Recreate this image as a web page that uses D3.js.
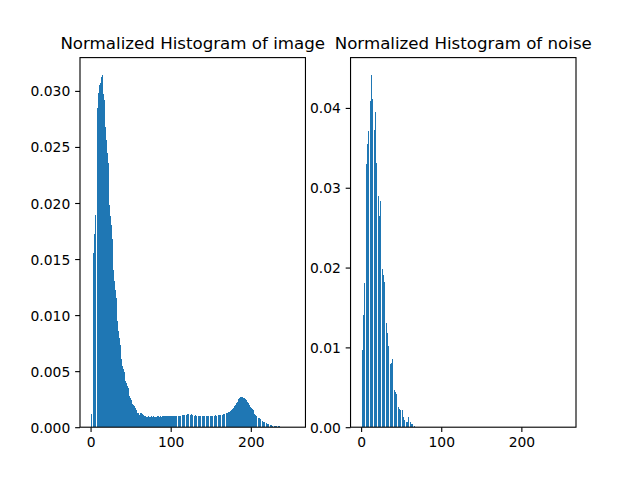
<!DOCTYPE html>
<html>
<head>
<meta charset="utf-8">
<script src="https://cdn.jsdelivr.net/npm/d3@7"></script>
<style>
  html, body { margin: 0; padding: 0; background: #fff; }
  svg { display: block; }
  text { font-family: "DejaVu Sans", sans-serif; fill: #000; }
</style>
</head>
<body>
<svg id="chart" width="640" height="480"></svg>
<script>
// ---- data ----
const binCount = 256;

const imageHist = [
  0, 0.0012, 0, 0.0116, 0.0155, 0.0172, 0.0189, 0, 0.0271, 0.0285, 0.0298, 0.0305, 0.0307, 0.0308, 0.0312, 0.0314,
  0.0297, 0.0292, 0.0277, 0.0268, 0.0256, 0.0245, 0.0236, 0.0211, 0.0198, 0.0188, 0.0180, 0.0168, 0.0147, 0.0140, 0.0130, 0.0122,
  0.0115, 0.0100, 0.0095, 0.0086, 0.0080, 0.0073, 0.0065, 0.0061, 0.0055, 0.0052, 0.0049, 0, 0.0041, 0.0039, 0.0037, 0.0035,
  0, 0.0028, 0.0026, 0.0024, 0.0021, 0, 0.0020, 0.0019, 0.0017, 0.0015, 0, 0.0013, 0.0013, 0.0011, 0.0013, 0,
  0.0013, 0.0012, 0.0011, 0.0010, 0, 0.00098, 0.00095, 0.00094, 0.00096, 0, 0.00093, 0.00095, 0.00097, 0.00094, 0, 0.00096,
  0.00093, 0.00095, 0.00094, 0, 0.00096, 0.00098, 0.00095, 0.00097, 0, 0.00094, 0.00096, 0.00099, 0.00097, 0, 0.00098, 0.00100,
  0.00097, 0.00101, 0, 0.00099, 0.00102, 0.00100, 0.00098, 0, 0.00101, 0.00099, 0.00103, 0.00100, 0, 0.00102, 0.00104, 0.00101,
  0.00103, 0, 0.00105, 0.00108, 0.00106, 0.00110, 0, 0.00112, 0.00108, 0.00115, 0.00118, 0, 0.00125, 0.00112, 0.00120, 0.00108,
  0, 0.00110, 0.00104, 0.00107, 0.00102, 0, 0.00105, 0.00100, 0.00103, 0.00101, 0, 0.00099, 0.00102, 0.00098, 0.00101, 0,
  0.00100, 0.00097, 0.00102, 0.00099, 0, 0.00101, 0.00098, 0.00100, 0.00103, 0, 0.00104, 0.00101, 0.00106, 0.00103, 0, 0.00108,
  0.00105, 0.00108, 0.00110, 0, 0.00112, 0.00110, 0.00115, 0.00118, 0, 0.00122, 0.00125, 0.00128, 0.00132, 0.00136, 0.00140, 0.00144,
  0.00150, 0.00158, 0.00168, 0.00178, 0.00188, 0.00200, 0.00215, 0.00228, 0.00245, 0.00252, 0.00260, 0.00265, 0.00268, 0.00262, 0.00266, 0.00258,
  0.00262, 0.00255, 0.00250, 0.00240, 0.00228, 0.00215, 0.00200, 0.00190, 0.00178, 0.00168, 0.00160, 0.00150, 0.00135, 0.00122, 0.00112, 0.00100,
  0, 0.00090, 0.00085, 0.00080, 0.00072, 0, 0.00062, 0.00055, 0.00050, 0.00045, 0, 0.00040, 0.00036, 0.00030, 0.00026, 0,
  0.00022, 0.00018, 0.00016, 0.00014, 0, 0.00012, 0.00011, 0.00010, 0.00010, 0, 0.00009, 0.00008, 0.00007, 0.00004, 0, 0,
  0, 0, 0, 0, 0, 0, 0, 0, 0, 0, 0, 0, 0, 0, 0, 0
];

const noiseHist = [
  0, 0.0043, 0.0097, 0.0140, 0.0181, 0, 0.0283, 0.0330, 0.0355, 0.0371, 0, 0.0397, 0.0409, 0.0441, 0.0411, 0,
  0.0345, 0.0372, 0.0395, 0.0331, 0, 0.0300, 0.0290, 0.0265, 0.0283, 0, 0.0206, 0.0198, 0.0191, 0.0182, 0, 0.0152,
  0.0130, 0.0118, 0.0102, 0, 0.0081, 0.0079, 0.0081, 0.0086, 0, 0.0050, 0.0046, 0.0044, 0.0042, 0, 0.0024, 0.0025,
  0.0023, 0.0021, 0, 0.0020, 0.0022, 0.0013, 0.0009, 0, 0.0003, 0.0007, 0.0007, 0.0013, 0, 0.0007, 0.0006, 0.0004,
  0.0004, 0, 0.0004, 0.0002, 0, 0, 0, 0, 0, 0, 0, 0, 0, 0, 0, 0,
  0, 0, 0, 0, 0, 0, 0, 0, 0, 0, 0, 0, 0, 0, 0, 0,
  0, 0, 0, 0, 0, 0, 0, 0, 0, 0, 0, 0, 0, 0, 0, 0,
  0, 0, 0, 0, 0, 0, 0, 0, 0, 0, 0, 0, 0, 0, 0, 0,
  0, 0, 0, 0, 0, 0, 0, 0, 0, 0, 0, 0, 0, 0, 0, 0,
  0, 0, 0, 0, 0, 0, 0, 0, 0, 0, 0, 0, 0, 0, 0, 0,
  0, 0, 0, 0, 0, 0, 0, 0, 0, 0, 0, 0, 0, 0, 0, 0,
  0, 0, 0, 0, 0, 0, 0, 0, 0, 0, 0, 0, 0, 0, 0, 0,
  0, 0, 0, 0, 0, 0, 0, 0, 0, 0, 0, 0, 0, 0, 0, 0,
  0, 0, 0, 0, 0, 0, 0, 0, 0, 0, 0, 0, 0, 0, 0, 0,
  0, 0, 0, 0, 0, 0, 0, 0, 0, 0, 0, 0, 0, 0, 0, 0,
  0, 0, 0, 0, 0, 0, 0, 0, 0, 0, 0, 0, 0, 0, 0, 0
];

const titles = ["Normalized Histogram of image", "Normalized Histogram of noise"];
const xTickValues = [0, 100, 200];
const imageYTicks = [0, 0.005, 0.010, 0.015, 0.020, 0.025, 0.030];
const noiseYTicks = [0, 0.01, 0.02, 0.03, 0.04];

// ---- layout (matplotlib default 1x2 subplots) ----
const W = 640, H = 480;
const figLeft = 0.125 * W, figRight = 0.9 * W;
const axTop = (1 - 0.88) * H, axBottom = (1 - 0.11) * H;
const axW = (figRight - figLeft) / 2.2;
const axLefts = [figLeft, figLeft + axW * 1.2];
const color = "#1f77b4";
const tickLen = 4.86, tickPad = 4.86, spineW = 1.11;

const svg = d3.select("#chart");

function drawPanel(left, values, yTicks, yFmt, title) {
  const idx = d3.range(binCount);
  const xMin = -0.4, xMax = binCount - 1 + 0.4;
  const xm = (xMax - xMin) * 0.05;
  const x = d3.scaleLinear().domain([xMin - xm, xMax + xm]).range([left, left + axW]);
  const yMax = d3.max(values) * 1.05;
  const y = d3.scaleLinear().domain([0, yMax]).range([axBottom, axTop]);

  const g = svg.append("g");

  g.append("g")
    .attr("shape-rendering", "crispEdges")
    .selectAll("rect")
    .data(idx.filter(i => values[i] > 0))
    .join("rect")
    .attr("x", i => x(i - 0.5))
    .attr("width", i => x(i + 0.5) - x(i - 0.5))
    .attr("y", i => y(values[i]))
    .attr("height", i => y(0) - y(values[i]))
    .attr("fill", color);

  // x axis
  const xAxis = d3.axisBottom(x).tickValues(xTickValues).tickFormat(d3.format("d"))
    .tickSize(tickLen).tickPadding(tickPad);
  const gx = g.append("g").attr("transform", `translate(0,${axBottom})`).call(xAxis);
  gx.select(".domain").remove();
  gx.selectAll(".tick line").attr("stroke", "#000").attr("stroke-width", spineW);
  gx.selectAll(".tick text").attr("font-size", "13.89px").attr("font-family", "DejaVu Sans").attr("dy", "0.71em").attr("fill", "#000");

  // y axis
  const yAxis = d3.axisLeft(y).tickValues(yTicks).tickFormat(d3.format(yFmt))
    .tickSize(tickLen).tickPadding(tickPad);
  const gy = g.append("g").attr("transform", `translate(${left},0)`).call(yAxis);
  gy.select(".domain").remove();
  gy.selectAll(".tick line").attr("stroke", "#000").attr("stroke-width", spineW);
  gy.selectAll(".tick text").attr("font-size", "13.89px").attr("font-family", "DejaVu Sans").attr("dy", "0.36em").attr("fill", "#000");

  // spines
  g.append("rect")
    .attr("x", left).attr("y", axTop)
    .attr("width", axW).attr("height", axBottom - axTop)
    .attr("fill", "none").attr("stroke", "#000").attr("stroke-width", spineW);

  // title
  g.append("text")
    .attr("x", left + axW / 2).attr("y", axTop - 8.33)
    .attr("text-anchor", "middle")
    .attr("font-size", "16.67px")
    .text(title);
}

drawPanel(axLefts[0], imageHist, imageYTicks, ".3f", titles[0]);
drawPanel(axLefts[1], noiseHist, noiseYTicks, ".2f", titles[1]);
</script>
</body>
</html>
